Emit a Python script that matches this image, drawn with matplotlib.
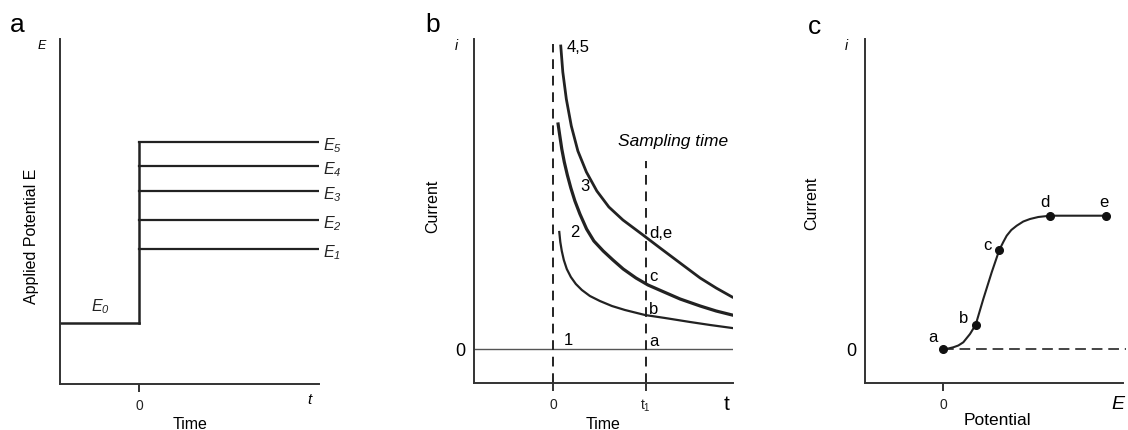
import numpy as np
import matplotlib.pyplot as plt

plt.rcParams['font.family'] = ['Liberation Sans', 'DejaVu Sans']
plt.rcParams['mathtext.fontset'] = 'custom'
plt.rcParams['mathtext.it'] = 'Liberation Sans:italic'
plt.rcParams['mathtext.rm'] = 'Liberation Sans'
plt.rcParams['mathtext.sf'] = 'Liberation Sans:italic'

# panel a: potential step levels (E0 .. E5)
levels_a = [0.61, 1.35, 1.64, 1.93, 2.18, 2.42]
level_subs = ['0', '1', '2', '3', '4', '5']

# panel b: current transients (t, i)
t_45 = [0.083, 0.105, 0.143, 0.197, 0.268, 0.360, 0.473, 0.603, 0.755, 0.972,
        1.157, 1.373, 1.590, 1.763, 1.936]
i_45 = [3.03, 2.77, 2.50, 2.23, 1.98, 1.77, 1.58, 1.42, 1.29, 1.14,
        1.01, 0.86, 0.71, 0.61, 0.52]
t_3 = [0.054, 0.073, 0.094, 0.121, 0.154, 0.192, 0.236, 0.290, 0.362, 0.441,
       0.542, 0.647, 0.758, 0.896, 1.026, 1.199, 1.373, 1.590, 1.763, 1.936]
i_3 = [2.25, 2.13, 2.00, 1.87, 1.74, 1.61, 1.48, 1.35, 1.20, 1.08,
       0.98, 0.89, 0.80, 0.71, 0.64, 0.57, 0.50, 0.43, 0.38, 0.34]
t_2 = [0.067, 0.078, 0.094, 0.116, 0.148, 0.192, 0.246, 0.311, 0.398, 0.506,
       0.636, 0.777, 0.993, 1.210, 1.481, 1.698, 1.936]
i_2 = [1.17, 1.07, 0.98, 0.89, 0.80, 0.72, 0.65, 0.59, 0.53, 0.48,
       0.43, 0.39, 0.34, 0.31, 0.27, 0.24, 0.21]
t_sample = 1.0

# panel c: sampled current vs potential
e_pts = [0.0, 0.324, 0.56, 1.067, 1.63]
i_pts = [0.0, 0.243, 0.99, 1.333, 1.333]
pt_names = ['a', 'b', 'c', 'd', 'e']
e_curve = [0.0, 0.05, 0.10, 0.15, 0.20, 0.267, 0.324, 0.40, 0.484, 0.56, 0.60,
           0.634, 0.68, 0.734, 0.80, 0.867, 0.95, 1.067, 1.30, 1.63]
i_curve = [0.0, 0.005, 0.017, 0.035, 0.067, 0.15, 0.243, 0.50, 0.767, 0.99, 1.07,
           1.133, 1.19, 1.233, 1.275, 1.30, 1.32, 1.333, 1.333, 1.333]

W, H = 1128, 431
fig = plt.figure(figsize=(W / 100, H / 100), dpi=100)


def px_axes(x0, y0, x1, y1):
    return fig.add_axes([x0 / W, 1 - y1 / H, (x1 - x0) / W, (y1 - y0) / H])


def ftext(x, y, s, **kw):
    fig.text(x / W, 1 - y / H, s, ha='center', va='center', **kw)


def style(ax):
    for s in ['top', 'right']:
        ax.spines[s].set_visible(False)
    for s in ['left', 'bottom']:
        ax.spines[s].set_linewidth(1.4)
        ax.spines[s].set_color('#333333')
    ax.tick_params(axis='x', direction='out', length=6, width=1.4, color='#333333',
                   labelsize=10, pad=4, labelcolor='#222222')


lc = '#222222'

# ---- panel a ----
ax = px_axes(60, 40, 319, 385)
style(ax)
ax.set_xlim(-0.793, 1.797)
ax.set_ylim(0, 3.45)
ax.set_xticks([0])
ax.set_xticklabels(['0'])
ax.set_yticks([])
ax.plot([-0.793, 0], [levels_a[0]] * 2, color=lc, lw=1.8)
ax.plot([0, 0], [levels_a[0], levels_a[-1]], color=lc, lw=1.8)
for lev in levels_a[1:]:
    ax.plot([0, 1.797], [lev, lev], color=lc, lw=1.6)
ax.text(-0.39, levels_a[0] + 0.13, r'$\mathit{E}_{\mathsf{0}}$', fontsize=11.5,
        ha='center', color=lc)
for lev, sub in zip(levels_a[1:], level_subs[1:]):
    ax.text(1.93, lev - 0.03, r'$\mathit{E}_{\mathsf{' + sub + '}}$', fontsize=11.5,
            ha='center', va='center', color=lc, clip_on=False)
ftext(17, 25, 'a', fontsize=19)
ftext(42, 46, 'E', fontsize=9, style='italic')
ftext(32, 236, 'Applied Potential E', fontsize=11.5, rotation=90)
ftext(309, 400, 't', fontsize=11, style='italic')
ftext(190, 425, 'Time', fontsize=11.5)

# ---- panel b ----
ax = px_axes(474, 40, 733, 384)
style(ax)
ax.set_xlim(-0.855, 1.945)
ax.set_ylim(-0.34, 3.10)
ax.set_xticks([0, t_sample])
ax.set_xticklabels(['0', r'$\mathregular{t_1}$'])
ax.set_yticks([0])
ax.set_yticklabels(['0'])
ax.tick_params(axis='y', length=0, labelsize=13, pad=6)
ax.axhline(0, color='#555555', lw=1.0)
ax.plot([0, 0], [-0.34, 3.05], color=lc, lw=1.4, ls=(0, (5, 3.5)))
ax.plot([t_sample, t_sample], [-0.34, 1.88], color=lc, lw=1.4, ls=(0, (5, 3.5)))
ax.plot(t_45, i_45, color=lc, lw=2.0, solid_joinstyle='round')
ax.plot(t_3, i_3, color=lc, lw=2.3, solid_joinstyle='round')
ax.plot(t_2, i_2, color=lc, lw=1.6, solid_joinstyle='round')
ax.text(0.145, 3.02, '4,5', fontsize=12, va='center')
ax.text(0.29, 1.63, '3', fontsize=12, va='center')
ax.text(0.18, 1.17, '2', fontsize=12, va='center')
ax.text(0.11, 0.09, '1', fontsize=12, va='center')
ax.text(1.04, 1.16, 'd,e', fontsize=12, va='center')
ax.text(1.04, 0.73, 'c', fontsize=12, va='center')
ax.text(1.04, 0.40, 'b', fontsize=12, va='center')
ax.text(1.04, 0.08, 'a', fontsize=12, va='center')
ax.text(1.3, 2.08, 'Sampling time', fontsize=12.5, style='italic', ha='center', va='center')
ftext(433, 25, 'b', fontsize=19)
ftext(456, 46, 'i', fontsize=10, style='italic')
ftext(433, 206, 'Current', fontsize=11.5, rotation=90)
ftext(727, 405, 't', fontsize=15)
ftext(603, 425, 'Time', fontsize=11.5)

# ---- panel c ----
ax = px_axes(865, 40, 1123, 384)
style(ax)
ax.set_xlim(-0.783, 1.797)
ax.set_ylim(-0.34, 3.10)
ax.set_xticks([0])
ax.set_xticklabels(['0'])
ax.set_yticks([0])
ax.set_yticklabels(['0'])
ax.tick_params(axis='y', length=0, labelsize=13, pad=6)
ax.plot([0, 1.83], [0, 0], color='#444444', lw=1.4, ls=(0, (5.5, 3)), clip_on=False)
ax.plot(e_curve, i_curve, color=lc, lw=1.5, solid_joinstyle='round')
ax.plot(e_pts, i_pts, 'o', color='#111111', ms=5.5)
lab_dx = [-0.10, -0.12, -0.12, -0.05, -0.02]
lab_dy = [0.12, 0.07, 0.05, 0.14, 0.14]
for e, i, n, dx, dy in zip(e_pts, i_pts, pt_names, lab_dx, lab_dy):
    ax.text(e + dx, i + dy, n, fontsize=12, ha='center', va='center')
ftext(815, 27, 'c', fontsize=19)
ftext(846, 46, 'i', fontsize=10, style='italic')
ftext(812, 203, 'Current', fontsize=11.5, rotation=90)
ftext(997, 421, 'Potential', fontsize=12.5)
ftext(1118, 405, 'E', fontsize=14, style='italic')

fig.savefig('out.png', dpi=100)
